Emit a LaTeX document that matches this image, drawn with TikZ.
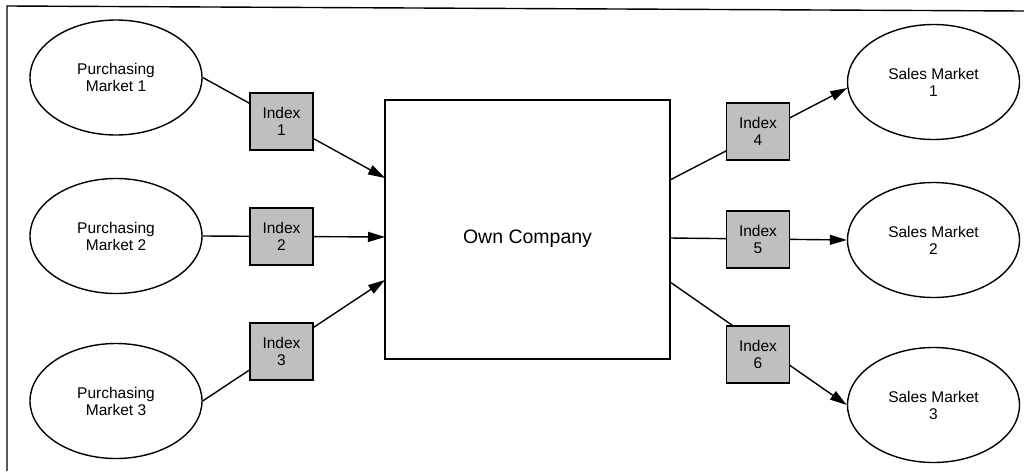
\documentclass[tikz,border=0pt]{standalone}
\usepackage{fontspec}
\setmainfont{Liberation Sans}
\usetikzlibrary{shapes.geometric,arrows.meta}

\begin{document}
\begin{tikzpicture}[x=1pt,y=-1pt,line width=1.4pt,
    market/.style={draw,ellipse,minimum width=172pt,minimum height=115pt,
      inner sep=0pt,align=center,font=\fontsize{15.5}{17}\selectfont},
    indexbox/.style={draw,fill=black!25,minimum width=63pt,minimum height=57pt,
      inner sep=0pt,align=center,font=\fontsize{15.5}{17}\selectfont},
    company/.style={draw,minimum width=285pt,minimum height=259pt,inner sep=0pt},
    flow/.style={-{Triangle[length=17pt,width=10pt]}}]
   \useasboundingbox (0,0) rectangle (1024,471);
   \draw (7,471) -- (7,6) -- (1024,11);
   % markets
   \node[market] (pm1) at (116,77.5) {Purchasing\\Market 1};
   \node[market] (pm2) at (116,236) {Purchasing\\Market 2};
   \node[market] (pm3) at (116,401) {Purchasing\\Market 3};
   \node[market] (sm1) at (933.5,82) {Sales Market\\1};
   \node[market] (sm2) at (933.5,240) {Sales Market\\2};
   \node[market] (sm3) at (933.5,405) {Sales Market\\3};
   % company
   \node[company] (own) at (527.5,229.5) {};
   \node[font=\fontsize{19.5}{22}\selectfont] (ownlabel) at (527.5,239) {Own Company};
   \coordinate (in1) at (385,178);
   \coordinate (in2) at (385,237);
   \coordinate (in3) at (385,280);
   \coordinate (out1) at (670,180);
   \coordinate (out2) at (670,238);
   \coordinate (out3) at (670,282);
   \path[flow]
    (pm1.east)  edge (in1)
    (pm2.east)  edge (in2)
    (pm3.east)  edge (in3)
    (out1)      edge (sm1.184)
    (out2)      edge (sm2.west)
    (out3)      edge (sm3.west);
   % index boxes
   \node[indexbox] (i1) at (281.5,121.5) {Index\\1};
   \node[indexbox] (i2) at (281.5,236.5) {Index\\2};
   \node[indexbox] (i3) at (281.5,351.5) {Index\\3};
   \node[indexbox] (i4) at (758,131.5) {Index\\4};
   \node[indexbox] (i5) at (758,239.5) {Index\\5};
   \node[indexbox] (i6) at (758,354.5) {Index\\6};
\end{tikzpicture}
\end{document}
